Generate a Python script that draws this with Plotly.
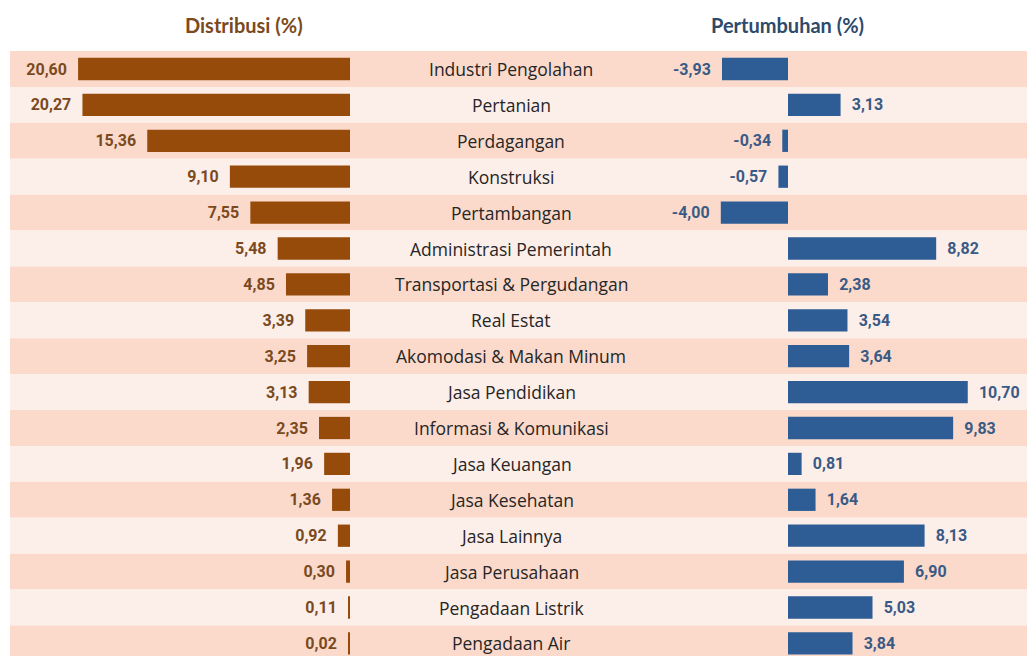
import plotly.graph_objects as go

categories = ["Industri Pengolahan", "Pertanian", "Perdagangan", "Konstruksi", "Pertambangan",
              "Administrasi Pemerintah", "Transportasi & Pergudangan", "Real Estat",
              "Akomodasi & Makan Minum", "Jasa Pendidikan", "Informasi & Komunikasi",
              "Jasa Keuangan", "Jasa Kesehatan", "Jasa Lainnya", "Jasa Perusahaan",
              "Pengadaan Listrik", "Pengadaan Air"]
distribusi = [20.60, 20.27, 15.36, 9.10, 7.55, 5.48, 4.85, 3.39, 3.25, 3.13, 2.35, 1.96, 1.36, 0.92, 0.30, 0.11, 0.02]
pertumbuhan = [-3.93, 3.13, -0.34, -0.57, -4.00, 8.82, 2.38, 3.54, 3.64, 10.70, 9.83, 0.81, 1.64, 8.13, 6.90, 5.03, 3.84]

W, H = 1027, 656
fmt = lambda v: f"{v:.2f}".replace(".", ",")
ypos = list(range(len(categories)))

BROWN = "#964B0A"
BLUE = "#2E5C94"
LABEL_FONT = "Roboto, Arial"

fig = go.Figure()
dist_draw = [max(v, 0.1) for v in distribusi]
fig.add_trace(go.Bar(
    x=dist_draw, y=ypos, orientation="h", xaxis="x", yaxis="y",
    marker=dict(color=BROWN, line=dict(width=0)), width=0.62,
    text=[fmt(v) + "\u2002" for v in distribusi], textposition="outside", cliponaxis=False,
    textfont=dict(family=LABEL_FONT, size=16, color="#7A4A1E", weight="bold"),
    hoverinfo="skip", showlegend=False,
))
fig.add_trace(go.Bar(
    x=pertumbuhan, y=ypos, orientation="h", xaxis="x2", yaxis="y",
    marker=dict(color=BLUE, line=dict(width=0)), width=0.62,
    text=[("\u2002" + fmt(v)) if v >= 0 else (fmt(v) + "\u2002") for v in pertumbuhan],
    textposition="outside", cliponaxis=False,
    textfont=dict(family=LABEL_FONT, size=16, color="#3A5A86", weight="bold"),
    hoverinfo="skip", showlegend=False,
))

shapes = []
for i in ypos:
    shapes.append(dict(type="rect", xref="paper", yref="y", x0=10 / W, x1=1, y0=i - 0.5, y1=i + 0.5,
                       fillcolor="#FBDACB" if i % 2 == 0 else "#FCEEE9", line=dict(width=0), layer="below"))

annotations = []
for i, c in enumerate(categories):
    annotations.append(dict(text=c, x=511 / W, y=i, xref="paper", yref="y", showarrow=False,
                            xanchor="center", yanchor="middle",
                            font=dict(family="Open Sans, Noto Sans, Lato", size=17.5, color="#262626")))
annotations.append(dict(text="Distribusi (%)", x=244 / W, y=1 - 25 / H, xref="paper", yref="paper",
                        showarrow=False, xanchor="center", yanchor="middle",
                        font=dict(family="Lato, Open Sans", size=20, color="#7A4A1E", weight="bold")))
annotations.append(dict(text="Pertumbuhan (%)", x=787 / W, y=1 - 25 / H, xref="paper", yref="paper",
                        showarrow=False, xanchor="center", yanchor="middle",
                        font=dict(family="Lato, Open Sans", size=20, color="#2E4A6B", weight="bold")))

left_zero, left_scale = 350, 13.2
right_dom0 = 600
right_zero, right_scale = 788, 16.8
row0, rowstep = 69, 35.9

fig.update_layout(
    width=W, height=H, margin=dict(l=0, r=0, t=0, b=0),
    paper_bgcolor="white", plot_bgcolor="rgba(0,0,0,0)",
    xaxis=dict(domain=[0, left_zero / W], range=[left_zero / left_scale, 0], visible=False, fixedrange=True),
    xaxis2=dict(domain=[right_dom0 / W, 1],
                range=[-(right_zero - right_dom0) / right_scale, (W - right_zero) / right_scale],
                visible=False, fixedrange=True),
    yaxis=dict(range=[(H - row0) / rowstep, -row0 / rowstep], visible=False, fixedrange=True),
    shapes=shapes, annotations=annotations,
)

fig.write_html("out.html", config={"displayModeBar": False},
               post_script="document.body.style.margin='0';document.body.style.overflow='hidden';")
